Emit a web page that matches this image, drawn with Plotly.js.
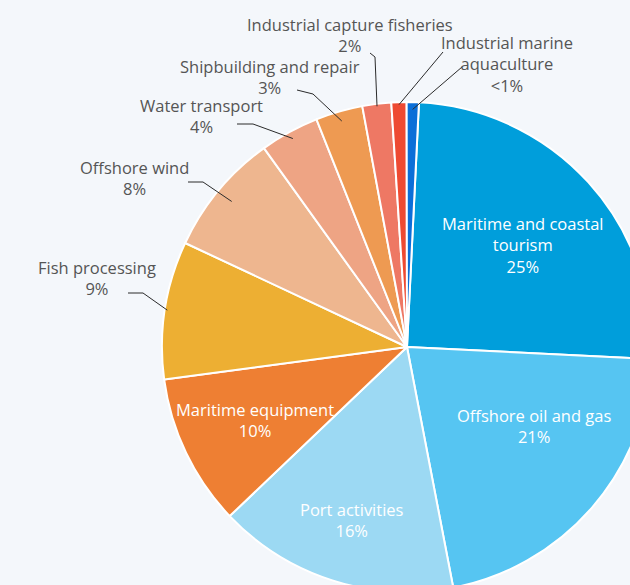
<!DOCTYPE html>
<html><head><meta charset="utf-8">
<script src="https://cdn.plot.ly/plotly-3.0.1.min.js"></script>
<style>html,body{margin:0;padding:0;overflow:hidden;background:#f4f7fb;width:630px;height:585px}</style>
</head><body><div id="chart"></div>
<script>
// ---- data ----
const categories = [
  "Maritime and coastal tourism", "Offshore oil and gas", "Port activities",
  "Maritime equipment", "Fish processing", "Offshore wind", "Water transport",
  "Shipbuilding and repair", "Industrial capture fisheries", "Other",
  "Industrial marine aquaculture"
];
const shares = [25.0, 21.2, 15.9, 10.0, 9.1, 8.1, 3.9, 3.1, 1.9, 1.0, 0.8];
const shareLabels = ["25%", "21%", "16%", "10%", "9%", "8%", "4%", "3%", "2%", "", "<1%"];
const labelNames = [
  "Maritime and coastal<br>tourism", "Offshore oil and gas", "Port activities",
  "Maritime equipment", "Fish processing", "Offshore wind", "Water transport",
  "Shipbuilding and repair", "Industrial capture fisheries", "",
  "Industrial marine<br>aquaculture"
];

// ---- styles ----
const colors = ["#009edb", "#56c5f2", "#9cd9f3", "#ee7f33", "#edaf33", "#eeb68f",
                "#eea484", "#ee9a52", "#ee7864", "#ee4a32", "#0b6fd8"];
const W = 660, H = 600, CX = 407, CY = 347, R = 245, START = 2.8;
const FONT = "'Open Sans', Lato, sans-serif";
const FS = 16.5;

// label placement (pixels): inside -> radius fraction + angle offset; outside -> text centre, leader start/elbow, edge fraction
const place = [
  {inside: 0.63, da: 1}, {inside: 0.61, da: -9}, {inside: 0.74, da: 0}, {inside: 0.69, da: 0},
  {tx: 97, ty: 278, sx: 128, sy: 293, bx: 143, by: 293, f: 0.99},
  {tx: 134, ty: 178, sx: 188, sy: 182, bx: 203, by: 182, f: 0.93},
  {tx: 202, ty: 116, sx: 237, sy: 124, bx: 253, by: 124, f: 0.97},
  {tx: 270, ty: 77, sx: 297, sy: 90, bx: 313, by: 94, f: 0.96},
  {tx: 350, ty: 35, sx: 370, sy: 53, bx: 375, by: 57, f: 0.99},
  {tx: null, sx: 443, sy: 52, f: 0.99},
  {tx: 507, ty: 64, sx: 462, sy: 67, f: 0.97}
];

const px = x => x / W, py = y => 1 - y / H;
const total = shares.reduce((a, b) => a + b, 0);
let cum = 0;
const annotations = [], shapes = [];
shares.forEach((v, i) => {
  const midDeg = START + 360 * (cum + v / 2) / total;
  cum += v;
  const p = place[i];
  const txt = labelNames[i] ? labelNames[i] + "<br>" + shareLabels[i] : "";
  if (p.inside) {
    const a = (midDeg + p.da) * Math.PI / 180;
    const x = CX + R * p.inside * Math.sin(a), y = CY - R * p.inside * Math.cos(a);
    annotations.push({xref: "paper", yref: "paper", x: px(x), y: py(y), text: txt, showarrow: false,
      xanchor: "center", yanchor: "middle", font: {family: FONT, size: FS, color: "#ffffff"}});
  } else {
    const a = midDeg * Math.PI / 180;
    if (p.tx !== null) {
      annotations.push({xref: "paper", yref: "paper", x: px(p.tx), y: py(p.ty), text: txt, showarrow: false,
        xanchor: "center", yanchor: "middle", font: {family: FONT, size: FS, color: "#555555"}});
    }
    const ex = CX + R * p.f * Math.sin(a), ey = CY - R * p.f * Math.cos(a);
    let path = "M" + px(p.sx) + "," + py(p.sy);
    if (p.bx !== undefined) path += " L" + px(p.bx) + "," + py(p.by);
    path += " L" + px(ex) + "," + py(ey);
    shapes.push({type: "path", xref: "paper", yref: "paper", path: path, line: {color: "#2b2b2b", width: 1}});
  }
});

const trace = {
  type: "pie", labels: categories, values: shares, sort: false, direction: "clockwise",
  rotation: START, marker: {colors: colors, line: {color: "#ffffff", width: 2}},
  textinfo: "none", hoverinfo: "label+percent", showlegend: false,
  domain: {x: [(CX - R) / W, (CX + R) / W], y: [1 - (CY + R) / H, 1 - (CY - R) / H]}
};
const layout = {
  width: W, height: H, autosize: false, margin: {l: 0, r: 0, t: 0, b: 0},
  paper_bgcolor: "#f4f7fb", plot_bgcolor: "#f4f7fb", showlegend: false,
  annotations: annotations, shapes: shapes, font: {family: FONT}
};
Plotly.newPlot("chart", [trace], layout, {displayModeBar: false, staticPlot: true});
</script></body></html>
